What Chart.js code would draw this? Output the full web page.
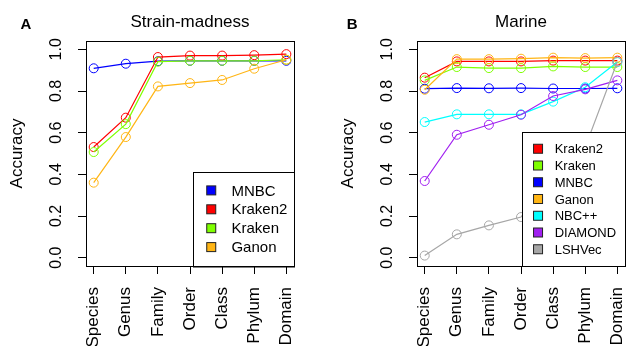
<html>
<head>
<script src="https://cdn.jsdelivr.net/npm/chart.js@4.4.3/dist/chart.umd.min.js"></script>
<style>
    body { margin: 0; width: 641px; height: 346px; overflow: hidden; background: #fff; position: relative; }
    canvas { position: absolute; top: 0; }
    #chartA { left: 0; }
    #chartB { left: 331px; }
</style>
</head>
<body>
<canvas id="chartA" width="320" height="346"></canvas>
<canvas id="chartB" width="320" height="346"></canvas>
<script>
    ranks = ["Species", "Genus", "Family", "Order", "Class", "Phylum", "Domain"];
    yTicks = [0, 0.2, 0.4, 0.6, 0.8, 1.0];

    // A: Strain-madness
    strainMNBC = [0.909, 0.931, 0.943, 0.945, 0.945, 0.945, 0.945];
    strainKraken2 = [0.531, 0.672, 0.963, 0.970, 0.970, 0.972, 0.977];
    strainKraken = [0.507, 0.641, 0.941, 0.945, 0.945, 0.945, 0.950];
    strainGanon = [0.360, 0.579, 0.822, 0.838, 0.853, 0.907, 0.950];

    // B: Marine
    marineKraken2 = [0.864, 0.942, 0.942, 0.942, 0.946, 0.946, 0.946];
    marineKraken = [0.851, 0.915, 0.910, 0.910, 0.918, 0.915, 0.915];
    marineMNBC = [0.811, 0.814, 0.813, 0.814, 0.812, 0.812, 0.813];
    marineGanon = [0.806, 0.953, 0.953, 0.955, 0.960, 0.958, 0.960];
    marineNBC = [0.651, 0.688, 0.688, 0.688, 0.749, 0.818, 0.939];
    marineDiamond = [0.368, 0.590, 0.638, 0.686, 0.776, 0.808, 0.851];
    marineLSHVec = [0.010, 0.112, 0.155, 0.195, 0.410, 0.530, 0.940];

    FONT = "'Liberation Sans', Arial, sans-serif";

    // box, titles, rotated y labels and the R style legend
    panelPlugin = {
        id: "panel",
        afterDraw: function (chart, args, o) {
            var ctx = chart.ctx, a = chart.chartArea, ys = chart.scales.y;
            ctx.save();
            // legend (bottomright, inset 0)
            var ds = chart.data.datasets, lg = o.legend;
            var lh = lg.row * (ds.length + 1);
            var lx = a.right - lg.width, ly = a.bottom - lh;
            ctx.fillStyle = "#fff";
            ctx.fillRect(lx, ly, lg.width, lh);
            ctx.strokeStyle = "#000";
            ctx.lineWidth = 1;
            ctx.strokeRect(Math.round(lx) + 0.5, Math.round(ly) + 0.5, lg.width, lh);
            ctx.font = lg.font + "px " + FONT;
            ctx.textBaseline = "middle";
            ctx.textAlign = "left";
            for (var i = 0; i < ds.length; i++) {
                var cy = ly + lg.row * (i + 1);
                ctx.fillStyle = ds[i].borderColor;
                ctx.fillRect(lx + lg.boxOff - lg.sq / 2, cy - lg.sq / 2, lg.sq, lg.sq);
                ctx.strokeStyle = "#222";
                ctx.strokeRect(lx + lg.boxOff - lg.sq / 2, cy - lg.sq / 2, lg.sq, lg.sq);
                ctx.fillStyle = "#000";
                ctx.fillText(ds[i].label, lx + lg.textOff, cy + 1);
            }
            // frame
            ctx.strokeStyle = "#000";
            ctx.strokeRect(Math.round(a.left) + 0.5, Math.round(a.top) + 0.5,
                Math.round(a.right - a.left), Math.round(a.bottom - a.top));
            ctx.fillStyle = "#000";
            // title
            ctx.font = "17px " + FONT;
            ctx.textAlign = "center";
            ctx.textBaseline = "alphabetic";
            ctx.fillText(o.title, (a.left + a.right) / 2, 26.5);
            // panel letter
            ctx.font = "bold 15px " + FONT;
            ctx.textAlign = "left";
            ctx.fillText(o.letter, o.letterX, 28.5);
            // y tick labels, rotated like R las=0
            ctx.font = "16px " + FONT;
            ctx.textAlign = "center";
            ctx.textBaseline = "middle";
            yTicks.forEach(function (v) {
                ctx.save();
                ctx.translate(a.left - 29, ys.getPixelForValue(v));
                ctx.rotate(-Math.PI / 2);
                ctx.fillText(v.toFixed(1), 0, 0);
                ctx.restore();
            });
            // y axis label
            ctx.font = "17px " + FONT;
            ctx.save();
            ctx.translate(a.left - 68.5, (a.top + a.bottom) / 2);
            ctx.rotate(-Math.PI / 2);
            ctx.fillText("Accuracy", 0, 0);
            ctx.restore();
            ctx.restore();
        }
    };

    function makechart(id, title, letter, letterX, series, legend) {
        var n = series.length;
        var datasets = series.map(function (s, i) {
            return {
                label: s[0],
                data: s[1].map(function (v, j) { return { x: j + 1, y: v }; }),
                borderColor: s[2],
                backgroundColor: "rgba(0,0,0,0)",
                borderWidth: 1.2,
                pointRadius: 4.5,
                pointHoverRadius: 4.5,
                pointBorderWidth: 1,
                pointBackgroundColor: "rgba(0,0,0,0)",
                tension: 0,
                order: n - i
            };
        });
        var grid = { display: true, drawOnChartArea: false, drawTicks: true, tickLength: 8, color: "#000", lineWidth: 1 };
        config = {
            type: "line",
            data: { datasets: datasets },
            options: {
                responsive: false,
                animation: false,
                layout: { padding: { top: 41, right: 7, left: 0, bottom: 0 } },
                plugins: {
                    legend: { display: false },
                    tooltip: { enabled: false },
                    panel: { title: title, letter: letter, letterX: letterX, legend: legend }
                },
                scales: {
                    x: {
                        type: "linear",
                        min: 0.76,
                        max: 7.24,
                        afterBuildTicks: function (sc) {
                            sc.ticks = ranks.map(function (r, i) { return { value: i + 1 }; });
                        },
                        ticks: {
                            autoSkip: false,
                            minRotation: 90,
                            maxRotation: 90,
                            padding: 13,
                            color: "#000",
                            font: { family: FONT, size: 17 },
                            callback: function (v) { return ranks[v - 1]; }
                        },
                        grid: grid,
                        border: { display: false },
                        afterFit: function (sc) { sc.height = 80; }
                    },
                    y: {
                        type: "linear",
                        min: -0.04,
                        max: 1.04,
                        afterBuildTicks: function (sc) {
                            sc.ticks = yTicks.map(function (v) { return { value: v }; });
                        },
                        ticks: { display: false },
                        grid: grid,
                        border: { display: false },
                        afterFit: function (sc) { sc.width = 86; }
                    }
                }
            },
            plugins: [panelPlugin]
        };
        return new Chart(document.querySelector(id), config);
    }

    makechart("#chartA", "Strain-madness", "A", 20.5, [
        ["MNBC", strainMNBC, "#0000FF"],
        ["Kraken2", strainKraken2, "#FF0000"],
        ["Kraken", strainKraken, "#7FFF00"],
        ["Ganon", strainGanon, "#FFB514"]
    ], { width: 101, row: 18.9, font: 15, boxOff: 18.2, textOff: 38.4, sq: 9 });

    makechart("#chartB", "Marine", "B", 15.7, [
        ["Kraken2", marineKraken2, "#FF0000"],
        ["Kraken", marineKraken, "#7FFF00"],
        ["MNBC", marineMNBC, "#0000FF"],
        ["Ganon", marineGanon, "#FFB514"],
        ["NBC++", marineNBC, "#00FFFF"],
        ["DIAMOND", marineDiamond, "#A020F0"],
        ["LSHVec", marineLSHVec, "#A6A6A6"]
    ], { width: 103, row: 16.75, font: 13, boxOff: 16, textOff: 32.6, sq: 9 });
</script>
</body>
</html>
